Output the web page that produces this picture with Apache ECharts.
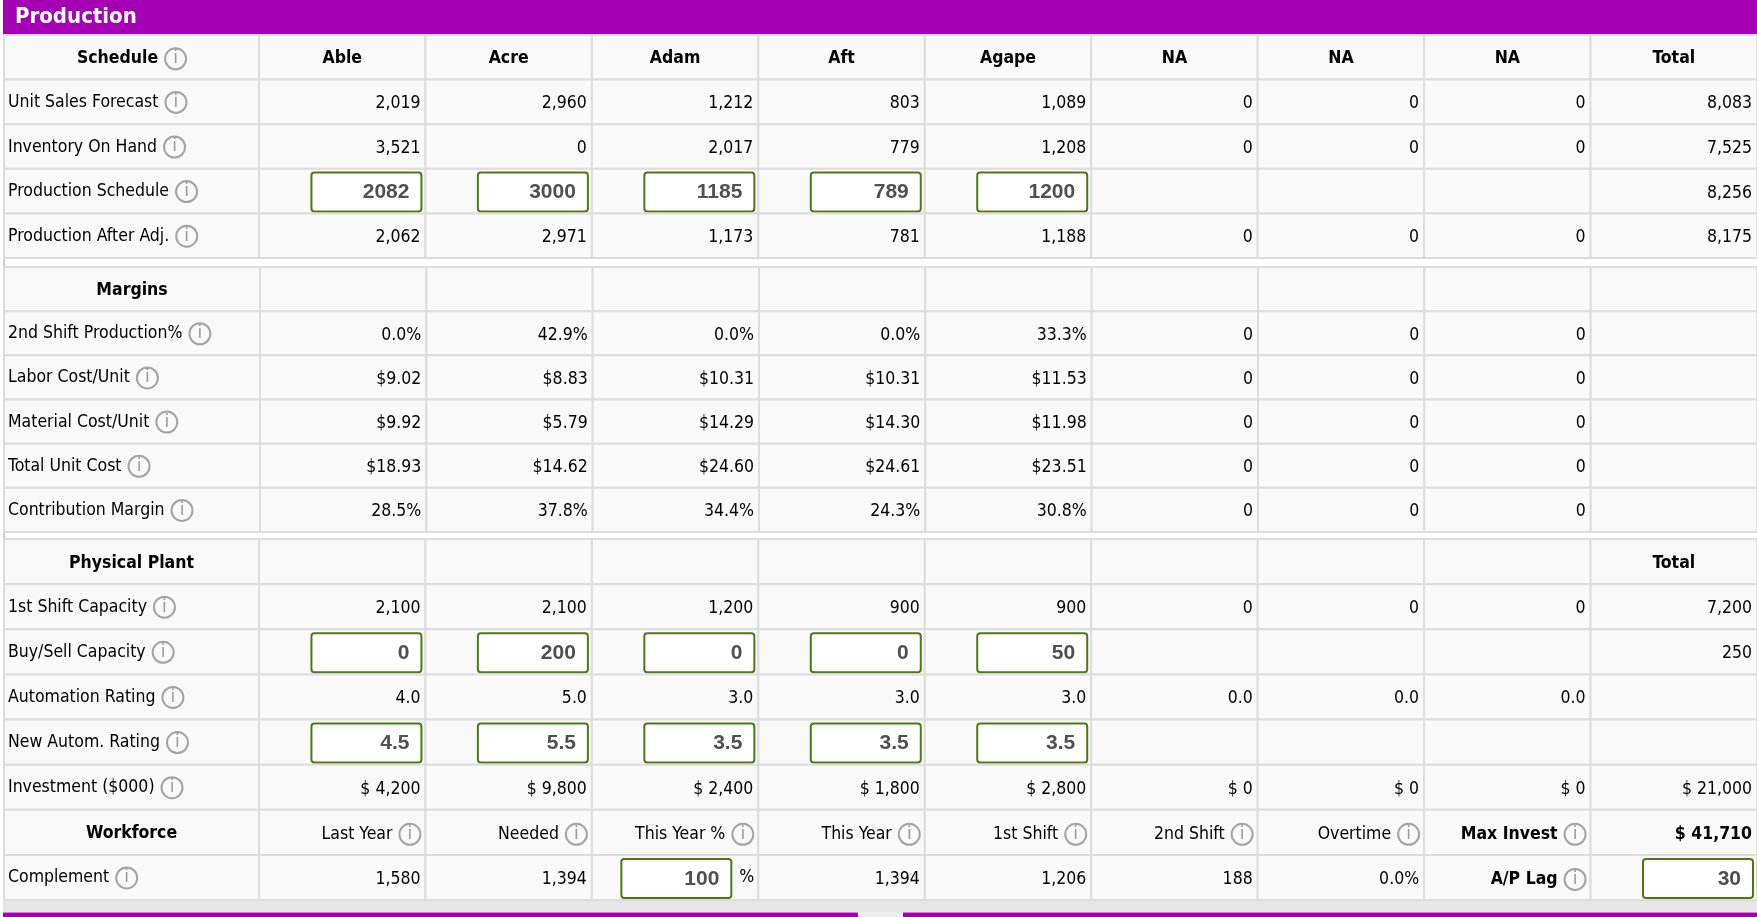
<!DOCTYPE html>
<html>
<head>
<meta charset="utf-8">
<title>Production</title>
<script src="https://cdn.jsdelivr.net/npm/echarts@6/dist/echarts.min.js"></script>
<style>
    html, body { margin: 0; padding: 0; background: #fff; }
    #grafico { width: 1757px; height: 917px; }
</style>
</head>
<body>
<div id="grafico"></div>
<script>
// Columnas del cuadro
const columns = ['Able', 'Acre', 'Adam', 'Aft', 'Agape', 'NA', 'NA', 'NA', 'Total'];

// Schedule
const scheduleRows = ['Schedule', 'Unit Sales Forecast', 'Inventory On Hand', 'Production Schedule', 'Production After Adj.'];
const unitSalesForecast = [2019, 2960, 1212, 803, 1089, 0, 0, 0, 8083];
const inventoryOnHand = [3521, 0, 2017, 779, 1208, 0, 0, 0, 7525];
const productionSchedule = [2082, 3000, 1185, 789, 1200];
const productionScheduleTotal = 8256;
const productionAfterAdj = [2062, 2971, 1173, 781, 1188, 0, 0, 0, 8175];

// Margins
const marginRows = ['Margins', '2nd Shift Production%', 'Labor Cost/Unit', 'Material Cost/Unit', 'Total Unit Cost', 'Contribution Margin'];
const secondShiftPct = [0.0, 42.9, 0.0, 0.0, 33.3, 0, 0, 0];
const laborCost = [9.02, 8.83, 10.31, 10.31, 11.53, 0, 0, 0];
const materialCost = [9.92, 5.79, 14.29, 14.30, 11.98, 0, 0, 0];
const totalUnitCost = [18.93, 14.62, 24.60, 24.61, 23.51, 0, 0, 0];
const contributionMargin = [28.5, 37.8, 34.4, 24.3, 30.8, 0, 0, 0];

// Physical Plant
const plantRows = ['Physical Plant', '1st Shift Capacity', 'Buy/Sell Capacity', 'Automation Rating', 'New Autom. Rating', 'Investment ($000)', 'Workforce', 'Complement'];
const firstShiftCapacity = [2100, 2100, 1200, 900, 900, 0, 0, 0, 7200];
const buySellCapacity = [0, 200, 0, 0, 50];
const buySellTotal = 250;
const automationRating = [4.0, 5.0, 3.0, 3.0, 3.0, 0.0, 0.0, 0.0];
const newAutomRating = [4.5, 5.5, 3.5, 3.5, 3.5];
const investment = [4200, 9800, 2400, 1800, 2800, 0, 0, 0, 21000];

// Workforce
const workforceHeads = ['Last Year', 'Needed', 'This Year %', 'This Year', '1st Shift', '2nd Shift', 'Overtime'];
const complement = [1580, 1394, 100, 1394, 1206, 188, 0.0];
const maxInvest = 41710;
const apLag = 30;

// Estilos
const FONT = '"DejaVu Sans Condensed", "Liberation Sans", sans-serif';
const INPUT_FONT = '"Liberation Sans", Arial, sans-serif';
const PURPLE = '#a600b4';
const GREEN = '#4b7a10';
const CELL_BG = '#f9f9f9';
const CELL_LINE = '#dddddd';

// Formatos
const fmtInt = v => v.toLocaleString('en-US');
const fmtPct = v => v.toFixed(1) + '%';
const fmtCost = v => '$' + v.toFixed(2);
const fmtDec = v => v.toFixed(1);
const fmtInvest = v => '$ ' + v.toLocaleString('en-US');

const RICH = {
    g: { width: 7 },
    i: {
        width: 21, height: 21, lineHeight: 21,
        borderRadius: 12, borderColor: '#a3a3a3', borderWidth: 2,
        align: 'center', verticalAlign: 'middle',
        fill: '#999999', fontSize: 17, fontFamily: '"DejaVu Sans", sans-serif'
    }
};

// Construir la matriz de celdas de una sección
function crearTabla(nFilas, nCols) {
    const t = [];
    for (let r = 0; r < nFilas; r++) {
        for (let c = 0; c < nCols; c++) t.push({ value: [c, r], kind: 'blank' });
    }
    return t;
}
function poner(tabla, nCols, c, r, props) {
    Object.assign(tabla[r * nCols + c], props);
}
function filaNum(tabla, r, valores, fmt) {
    valores.forEach((v, c) => poner(tabla, 9, c, r, { kind: 'num', text: fmt(v, c) }));
}

// Sección 1: Schedule
const sched = crearTabla(5, 9);
columns.forEach((n, c) => poner(sched, 9, c, 0, { kind: 'head', text: n }));
filaNum(sched, 1, unitSalesForecast, fmtInt);
filaNum(sched, 2, inventoryOnHand, fmtInt);
productionSchedule.forEach((v, c) => poner(sched, 9, c, 3, { kind: 'input', text: String(v) }));
poner(sched, 9, 8, 3, { kind: 'num', text: fmtInt(productionScheduleTotal) });
filaNum(sched, 4, productionAfterAdj, fmtInt);

// Sección 2: Margins (las columnas NA muestran 0 sin formato)
const marg = crearTabla(6, 9);
const sinNA = fmt => (v, c) => c >= 5 ? String(v) : fmt(v);
filaNum(marg, 1, secondShiftPct, sinNA(fmtPct));
filaNum(marg, 2, laborCost, sinNA(fmtCost));
filaNum(marg, 3, materialCost, sinNA(fmtCost));
filaNum(marg, 4, totalUnitCost, sinNA(fmtCost));
filaNum(marg, 5, contributionMargin, sinNA(fmtPct));

// Sección 3: Physical Plant + Workforce
const plant = crearTabla(8, 9);
poner(plant, 9, 8, 0, { kind: 'head', text: 'Total' });
filaNum(plant, 1, firstShiftCapacity, fmtInt);
buySellCapacity.forEach((v, c) => poner(plant, 9, c, 2, { kind: 'input', text: String(v) }));
poner(plant, 9, 8, 2, { kind: 'num', text: fmtInt(buySellTotal) });
filaNum(plant, 3, automationRating, fmtDec);
newAutomRating.forEach((v, c) => poner(plant, 9, c, 4, { kind: 'input', text: fmtDec(v) }));
filaNum(plant, 5, investment, fmtInvest);
workforceHeads.forEach((n, c) => poner(plant, 9, c, 6, { kind: 'num', text: n, icon: true }));
poner(plant, 9, 7, 6, { kind: 'num', text: 'Max Invest', bold: true, icon: true });
poner(plant, 9, 8, 6, { kind: 'num', text: fmtInvest(maxInvest), bold: true });
complement.forEach((v, c) => {
    if (c === 2) poner(plant, 9, c, 7, { kind: 'inputPct', text: String(v) });
    else if (c === 6) poner(plant, 9, c, 7, { kind: 'num', text: fmtPct(v) });
    else poner(plant, 9, c, 7, { kind: 'num', text: fmtInt(v) });
});
poner(plant, 9, 7, 7, { kind: 'num', text: 'A/P Lag', bold: true, icon: true });
poner(plant, 9, 8, 7, { kind: 'input', text: String(apLag) });

// Columnas de etiquetas
function etiquetas(filas, cabeceras, iconoCabecera) {
    return filas.map((n, r) => {
        const esCab = cabeceras.indexOf(r) >= 0;
        return { value: [0, r], kind: esCab ? 'head' : 'label', text: n, icon: esCab ? (r === 0 && iconoCabecera) : true };
    });
}
const schedLabels = etiquetas(scheduleRows, [0], true);
const margLabels = etiquetas(marginRows, [0], false);
const plantLabels = etiquetas(plantRows, [0, 6], false);

function texto(str, x, y, align, bold, icon) {
    return {
        type: 'text',
        style: {
            text: icon ? str + '{g|\u00a0}{i|i}' : str,
            x: x, y: y, align: align, verticalAlign: 'middle',
            fontSize: 17.5, fontFamily: FONT, fontWeight: bold ? 'bold' : 'normal',
            fill: '#000', rich: RICH
        }
    };
}
function cajaInput(str, right, cy) {
    return [
        { type: 'rect', shape: { x: right - 110, y: cy - 18.5, width: 110, height: 39, r: 3 },
          style: { fill: '#fff', stroke: GREEN, lineWidth: 2 } },
        { type: 'text', style: { text: str, x: right - 12, y: cy + 1.5, align: 'right', verticalAlign: 'middle',
          fontSize: 21, fontWeight: 'bold', fontFamily: INPUT_FONT, fill: '#505050' } }
    ];
}

function dibujarCelda(celdas) {
    return function (params, api) {
        const cel = celdas[params.dataIndex];
        const c = api.coord([api.value(0), api.value(1)]);
        const s = api.size([1, 1]);
        const x0 = c[0] - s[0] / 2, y0 = c[1] - s[1] / 2, x1 = x0 + s[0];
        const hijos = [{
            type: 'rect', shape: { x: x0, y: y0, width: s[0], height: s[1] },
            style: { fill: CELL_BG, stroke: CELL_LINE, lineWidth: 2 }
        }];
        if (cel.kind === 'label') hijos.push(texto(cel.text, x0 + 4, c[1] + 0.5, 'left', false, cel.icon));
        else if (cel.kind === 'head') hijos.push(texto(cel.text, c[0], c[1] + 1.5, 'center', true, cel.icon));
        else if (cel.kind === 'num') hijos.push(texto(cel.text, x1 - 5, c[1] + 2, 'right', cel.bold, cel.icon));
        else if (cel.kind === 'input') hijos.push(...cajaInput(cel.text, x1 - 4, c[1]));
        else if (cel.kind === 'inputPct') {
            hijos.push(...cajaInput(cel.text, x1 - 27, c[1]));
            hijos.push(texto('%', x1 - 4, c[1], 'right', false, false));
        }
        return { type: 'group', children: hijos };
    };
}

// Posición de cada sección (tablas + columna de etiquetas)
const secciones = [
    { top: 35, height: 223, split: 259, width: 1498, filas: scheduleRows, celdas: sched, etiquetas: schedLabels },
    { top: 267, height: 265, split: 260, width: 1506, filas: marginRows, celdas: marg, etiquetas: margLabels },
    { top: 539, height: 361, split: 259, width: 1498, filas: plantRows, celdas: plant, etiquetas: plantLabels }
];

const grid = [], xAxis = [], yAxis = [], series = [];
secciones.forEach(function (sec) {
    [
        { left: 4, width: sec.split - 4, cats: ['label'], celdas: sec.etiquetas },
        { left: sec.split, width: sec.width, cats: columns, celdas: sec.celdas }
    ].forEach(function (parte) {
        const i = grid.length;
        grid.push({ left: parte.left, top: sec.top, width: parte.width, height: sec.height, show: false });
        xAxis.push({ type: 'category', gridIndex: i, data: parte.cats, show: false });
        yAxis.push({ type: 'category', gridIndex: i, data: sec.filas, inverse: true, show: false });
        series.push({
            type: 'custom', xAxisIndex: i, yAxisIndex: i, silent: true,
            encode: { x: 0, y: 1 },
            data: parte.celdas.map(d => d.value),
            renderItem: dibujarCelda(parte.celdas)
        });
    });
});

const grafico = echarts.init(document.getElementById('grafico'));
grafico.setOption({
    animation: false,
    backgroundColor: '#fff',
    title: {
        text: 'Production', left: 15, top: 4, padding: 0, z: 10,
        textStyle: { color: '#fff', fontSize: 22, fontWeight: 'bold', fontFamily: FONT, lineHeight: 26 }
    },
    graphic: [
        { type: 'rect', x: 3, y: 0, shape: { width: 1754, height: 35 }, style: { fill: PURPLE }, z: 0 },
        { type: 'rect', x: 3, y: 35, shape: { width: 2, height: 866 }, style: { fill: '#cfcfcf' }, z: 0 },
        { type: 'rect', x: 3, y: 900, shape: { width: 1754, height: 12 }, style: { fill: '#e6e6e6' }, z: 0 },
        { type: 'rect', x: 858, y: 912, shape: { width: 45, height: 5 }, style: { fill: '#ececec' }, z: 0 },
        { type: 'rect', x: 3, y: 912.5, shape: { width: 855, height: 4.5 }, style: { fill: PURPLE }, z: 0 },
        { type: 'rect', x: 903, y: 912.5, shape: { width: 854, height: 4.5 }, style: { fill: PURPLE }, z: 0 }
    ],
    grid: grid,
    xAxis: xAxis,
    yAxis: yAxis,
    series: series
});

window.addEventListener('resize', function () {
    grafico.resize();
});
</script>
</body>
</html>
